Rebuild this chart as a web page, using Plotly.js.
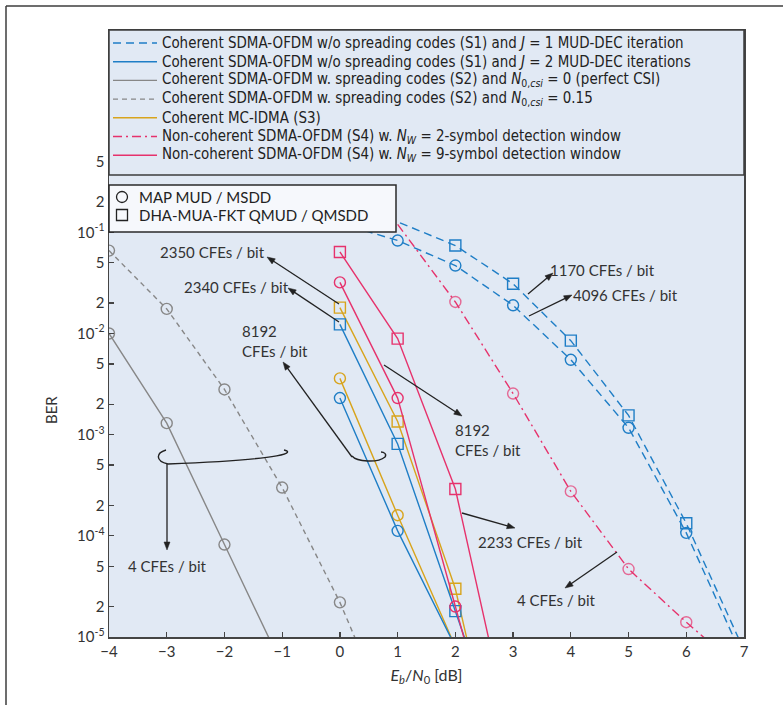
<!DOCTYPE html>
<html><head><meta charset="utf-8">
<script src="https://cdn.plot.ly/plotly-3.0.1.min.js"></script>
<style>html,body{margin:0;padding:0;background:#fff}#chart{width:783px;height:705px}</style>
</head><body><div id="chart"></div>
<script>
// ---------- data (Eb/N0 in dB, BER) ----------
const x_S1_J1_map = [0, 1, 2, 3, 4, 5, 6, 7];
const ber_S1_J1_map = [0.123, 8.3e-2, 4.7e-2, 1.9e-2, 5.5e-3, 1.17e-3, 1.07e-4, 5.9e-6];
const x_S1_J1_dha = [0, 2, 3, 4, 5, 6, 7];
const ber_S1_J1_dha = [0.218, 7.4e-2, 3.1e-2, 8.5e-3, 1.55e-3, 1.33e-4, 7.4e-6];
const x_S1_J2_map = [0, 1, 2];
const ber_S1_J2_map = [2.3e-3, 1.12e-4, 8.0e-6];
const x_S1_J2_dha = [0, 1, 2, 3];
const ber_S1_J2_dha = [1.23e-2, 8.1e-4, 1.8e-5, 4e-7];
const x_S2_perfect = [-4, -3, -2, -1];
const ber_S2_perfect = [1.0e-2, 1.3e-3, 8.2e-5, 5.2e-6];
const x_S2_csi015 = [-4, -3, -2, -1, 0, 1];
const ber_S2_csi015 = [6.6e-2, 1.75e-2, 2.8e-3, 3.0e-4, 2.2e-5, 1.0e-6];
const x_S3_map = [0, 1, 2];
const ber_S3_map = [3.6e-3, 1.6e-4, 8e-6];
const x_S3_dha = [0, 1, 2, 3];
const ber_S3_dha = [1.8e-2, 1.35e-3, 3.0e-5, 1e-7];
const x_S4_W9_map = [0, 1, 2, 3];
const ber_S4_W9_map = [3.2e-2, 2.3e-3, 2.0e-5, 1.7e-7];
const x_S4_W9_dha = [0, 1, 2, 3];
const ber_S4_W9_dha = [6.4e-2, 8.9e-3, 2.9e-4, 8e-7];
const x_S4_W2_map = [1, 2, 3, 4, 5, 6, 7];
const ber_S4_W2_map = [0.12, 2.05e-2, 2.55e-3, 2.75e-4, 4.7e-5, 1.4e-5, 4.5e-6];

const legendNames = [
  'Coherent SDMA-OFDM w/o spreading codes (S1) and <i>J</i> = 1 MUD-DEC iteration',
  'Coherent SDMA-OFDM w/o spreading codes (S1) and <i>J</i> = 2 MUD-DEC iterations',
  'Coherent SDMA-OFDM w. spreading codes (S2) and <i>N</i><sub>0,<i>csi</i></sub> = 0 (perfect CSI)',
  'Coherent SDMA-OFDM w. spreading codes (S2) and <i>N</i><sub>0,<i>csi</i></sub> = 0.15',
  'Coherent MC-IDMA (S3)',
  'Non-coherent SDMA-OFDM (S4) w. <i>N<sub>W</sub></i> = 2-symbol detection window',
  'Non-coherent SDMA-OFDM (S4) w. <i>N<sub>W</sub></i> = 9-symbol detection window'
];
const markerNames = ['MAP MUD / MSDD', 'DHA-MUA-FKT QMUD / QMSDD'];

const yTickVals = [1e-5, 2e-5, 5e-5, 1e-4, 2e-4, 5e-4, 1e-3, 2e-3, 5e-3, 1e-2, 2e-2, 5e-2, 0.1, 0.2, 0.5];
const yTickText = ['10<sup>-5</sup>', '2', '5', '10<sup>-4</sup>', '2', '5', '10<sup>-3</sup>', '2', '5',
                   '10<sup>-2</sup>', '2', '5', '10<sup>-1</sup>', '2', '5'];
const xTickVals = [-4, -3, -2, -1, 0, 1, 2, 3, 4, 5, 6, 7];

// ---------- fonts ----------
function hasFont(name) {
  const c = document.createElement('canvas').getContext('2d');
  const s = 'Coherent SDMA-OFDM w/o spreading codes 0123';
  c.font = '40px monospace'; const w1 = c.measureText(s).width;
  c.font = '40px "' + name + '", monospace'; const w2 = c.measureText(s).width;
  return Math.abs(w1 - w2) > 0.5;
}
function textW(font, size, s) {
  const c = document.createElement('canvas').getContext('2d');
  c.font = size + 'px "' + font + '"'; return c.measureText(s).width;
}
const condCands = ['Liberation Sans Narrow', 'DejaVu Sans Condensed', 'Roboto Condensed', 'Noto Sans Condensed',
                   'Noto Sans SemiCondensed', 'Open Sans Condensed', 'Arial Narrow', 'Lato'];
let condFont = 'Lato';
for (const f of condCands) { if (hasFont(f)) { condFont = f; break; } }
const condSize = 15.5;
const legLine1 = 'Coherent SDMA-OFDM w/o spreading codes (S1) and J = 1 MUD-DEC iteration';
const condScale = Math.min(1, 522 / textW(condFont, condSize, legLine1));
const regFont = hasFont('Lato') ? 'Lato' : 'Open Sans';

// ---------- styles ----------
const BLUE = '#1f7ec6', PINK = '#e6326c', GOLD = '#d8a41c', GRAY = '#878787';
const BG = '#e1e9f4';
const LW = 1.4, MS = 11;
const DASH_B = '8px,5px', DASH_G = '5px,4px', DASH_DD = '9px,4px,2px,4px';

function curve(x, y, color, dash, symbol, extra) {
  const t = {x: x, y: y, type: 'scatter', mode: 'lines+markers', showlegend: false, hoverinfo: 'skip',
    line: {color: color, width: LW, dash: dash},
    marker: {symbol: symbol, size: MS, color: color, line: {width: LW, color: color}}};
  if (extra) Object.assign(t.marker, extra);
  return t;
}
const traces = [
  curve(x_S2_perfect, ber_S2_perfect, GRAY, 'solid', 'circle-open'),
  curve(x_S2_csi015, ber_S2_csi015, GRAY, DASH_G, 'circle-open'),
  curve(x_S1_J1_map, ber_S1_J1_map, BLUE, DASH_B, 'circle-open'),
  curve(x_S1_J1_dha, ber_S1_J1_dha, BLUE, DASH_B, 'square-open'),
  curve(x_S4_W2_map, ber_S4_W2_map, PINK, DASH_DD, 'circle-open', {size: [0, MS, MS, MS, MS, MS, MS]}),
  curve(x_S3_map, ber_S3_map, GOLD, 'solid', 'circle-open'),
  curve(x_S3_dha, ber_S3_dha, GOLD, 'solid', 'square-open'),
  curve(x_S1_J2_map, ber_S1_J2_map, BLUE, 'solid', 'circle-open'),
  curve(x_S1_J2_dha, ber_S1_J2_dha, BLUE, 'solid', 'square-open'),
  curve(x_S4_W9_map, ber_S4_W9_map, PINK, 'solid', 'circle-open'),
  curve(x_S4_W9_dha, ber_S4_W9_dha, PINK, 'solid', 'square-open')
];
const legStyles = [[BLUE, DASH_B], [BLUE, 'solid'], [GRAY, 'solid'], [GRAY, DASH_G], [GOLD, 'solid'], [PINK, DASH_DD], [PINK, 'solid']];

// ---------- geometry helpers (decoration only) ----------
const L = 109, T = 30, W = 635, H = 607;
const PX = p => (p - L) / W, PY = p => (T + H - p) / H;
function path(cmds) {
  return cmds.map(c => c[0] + ' ' + c.slice(1).map((v, k) => k % 2 === 0 ? PX(v).toFixed(5) : PY(v).toFixed(5)).join(' ')).join(' ');
}
const frameC = '#3d3d3d';
const shapes = [
  {type: 'line', xref: 'paper', yref: 'paper', x0: PX(6), x1: PX(6), y0: PY(6), y1: PY(705), line: {color: frameC, width: 1.5}},
  {type: 'line', xref: 'paper', yref: 'paper', x0: PX(6), x1: PX(783), y0: PY(6), y1: PY(6), line: {color: frameC, width: 1.5}},
  {type: 'rect', xref: 'paper', yref: 'paper', layer: 'above', x0: 0, x1: 1, y0: PY(175), y1: 1, fillcolor: BG, line: {color: frameC, width: 1.5}},
  {type: 'rect', xref: 'paper', yref: 'paper', layer: 'above', x0: 0, x1: PX(396), y0: PY(232), y1: PY(185), fillcolor: '#f6f8fc', line: {color: '#2a2a2a', width: 1.5}},
  {type: 'path', xref: 'paper', yref: 'paper', layer: 'above', line: {color: '#222', width: 1.4},
   path: path([['M', 166, 450], ['C', 156, 453, 155, 461, 168, 464, 190, 469, 262, 468, 285, 462], ['C', 294, 459, 293, 452, 284, 450]])},
  {type: 'path', xref: 'paper', yref: 'paper', layer: 'above', line: {color: '#222', width: 1.4},
   path: path([['M', 352, 456], ['C', 357, 462, 378, 463, 385, 457], ['C', 387, 454, 384, 452, 381, 452]])}
];

const tf = {family: regFont, size: 15, color: '#333'};
const annotations = [];
function label(px, py, text, anchor, font) {
  annotations.push({xref: 'paper', yref: 'paper', x: PX(px), y: PY(py), text: text, showarrow: false,
    xanchor: anchor || 'center', yanchor: 'middle', align: 'left', font: font || tf});
}
function arrow(tx, ty, hx, hy) {
  const dx = hx - tx, dy = hy - ty, len = Math.hypot(dx, dy), ux = dx / len, uy = dy / len;
  const hl = 8, hw = 3;
  const bx = hx - ux * hl, by = hy - uy * hl;
  shapes.push({type: 'line', xref: 'paper', yref: 'paper', layer: 'above', x0: PX(tx), y0: PY(ty), x1: PX(bx + ux), y1: PY(by + uy),
    line: {color: '#222', width: 1.3}});
  shapes.push({type: 'path', xref: 'paper', yref: 'paper', layer: 'above', fillcolor: '#222', line: {color: '#222', width: 0.5},
    path: path([['M', hx, hy], ['L', bx - uy * hw, by + ux * hw], ['L', bx + uy * hw, by - ux * hw]]) + ' Z'});
}
label(212, 252, '2350 CFEs / bit'); arrow(339, 304, 267, 257);
label(236, 287, '2340 CFEs / bit'); arrow(339, 322, 288, 288);
label(240, 341, '8192<br>CFEs / bit', 'left'); arrow(352, 457, 283, 362);
label(453, 440, '8192<br>CFEs / bit', 'left'); arrow(384, 365, 462, 416);
label(530, 542, '2233 CFEs / bit'); arrow(462, 513, 515, 528);
label(556, 600, '4 CFEs / bit'); arrow(617, 552, 565, 588);
label(602, 270, '1170 CFEs / bit'); arrow(528, 294, 553, 273);
label(625, 295, '4096 CFEs / bit'); arrow(529, 316, 572, 295);
label(167, 566, '4 CFEs / bit'); arrow(167, 464, 167, 550);
annotations.push({xref: 'paper', yref: 'paper', x: PX(40), y: PY(410), text: 'BER', textangle: -90, showarrow: false,
  font: {family: regFont, size: 15, color: '#333'}});

// main legend (manual: sample line + text)
const legFont = {family: condFont, size: condSize, color: '#222'};
legendNames.forEach((n, i) => {
  const yy = 43 + i * 18.7;
  shapes.push({type: 'line', xref: 'paper', yref: 'paper', layer: 'above', x0: PX(113), x1: PX(157), y0: PY(yy), y1: PY(yy),
    line: {color: legStyles[i][0], dash: legStyles[i][1], width: LW}});
  label(160, yy, n, 'left', legFont);
});
// marker legend (manual)
const mlFont = {family: regFont, size: 15, color: '#222'};
const r = 5.5;
shapes.push({type: 'circle', xref: 'paper', yref: 'paper', layer: 'above', x0: PX(122 - r), x1: PX(122 + r), y0: PY(197 + r), y1: PY(197 - r),
  line: {color: '#222', width: 1.3}, fillcolor: 'rgba(0,0,0,0)'});
shapes.push({type: 'rect', xref: 'paper', yref: 'paper', layer: 'above', x0: PX(122 - r), x1: PX(122 + r), y0: PY(215 + r), y1: PY(215 - r),
  line: {color: '#222', width: 1.3}, fillcolor: 'rgba(0,0,0,0)'});
label(137, 197, markerNames[0], 'left', mlFont);
label(137, 215, markerNames[1], 'left', mlFont);

const axisCommon = {showline: true, linecolor: '#444', linewidth: 1.5, mirror: true, showgrid: false, zeroline: false,
  ticks: 'inside', ticklen: 5, tickwidth: 1.3, tickcolor: '#444', tickfont: {family: regFont, size: 15, color: '#333'}};

const layout = {
  width: 783, height: 705,
  margin: {l: L, r: 783 - L - W, t: T, b: 705 - T - H, pad: 0},
  paper_bgcolor: '#ffffff', plot_bgcolor: BG,
  font: {family: regFont, size: 15, color: '#333'},
  xaxis: Object.assign({}, axisCommon, {range: [-4, 7], tickvals: xTickVals,
    title: {text: '<i>E<sub>b</sub></i>/<i>N</i><sub>0</sub> [dB]', font: {family: regFont, size: 16, color: '#333'}, standoff: 11}}),
  yaxis: Object.assign({}, axisCommon, {type: 'log', range: [-5, 1], tickvals: yTickVals, ticktext: yTickText}),
  showlegend: false,
  shapes: shapes, annotations: annotations
};
Plotly.newPlot('chart', traces, layout, {staticPlot: true, displayModeBar: false}).then(gd => {
  // condense the legend texts horizontally (emulates the condensed face of the original)
  if (condScale < 0.999) {
    gd.querySelectorAll('text.annotation-text').forEach(t => {
      const s = t.textContent || '';
      if (/^(Coherent|Non-coherent)/.test(s)) {
        const b = t.getBBox();
        t.setAttribute('transform', 'translate(' + (b.x * (1 - condScale)) + ',0) scale(' + condScale + ',1)');
      }
    });
  }
});
</script></body></html>
